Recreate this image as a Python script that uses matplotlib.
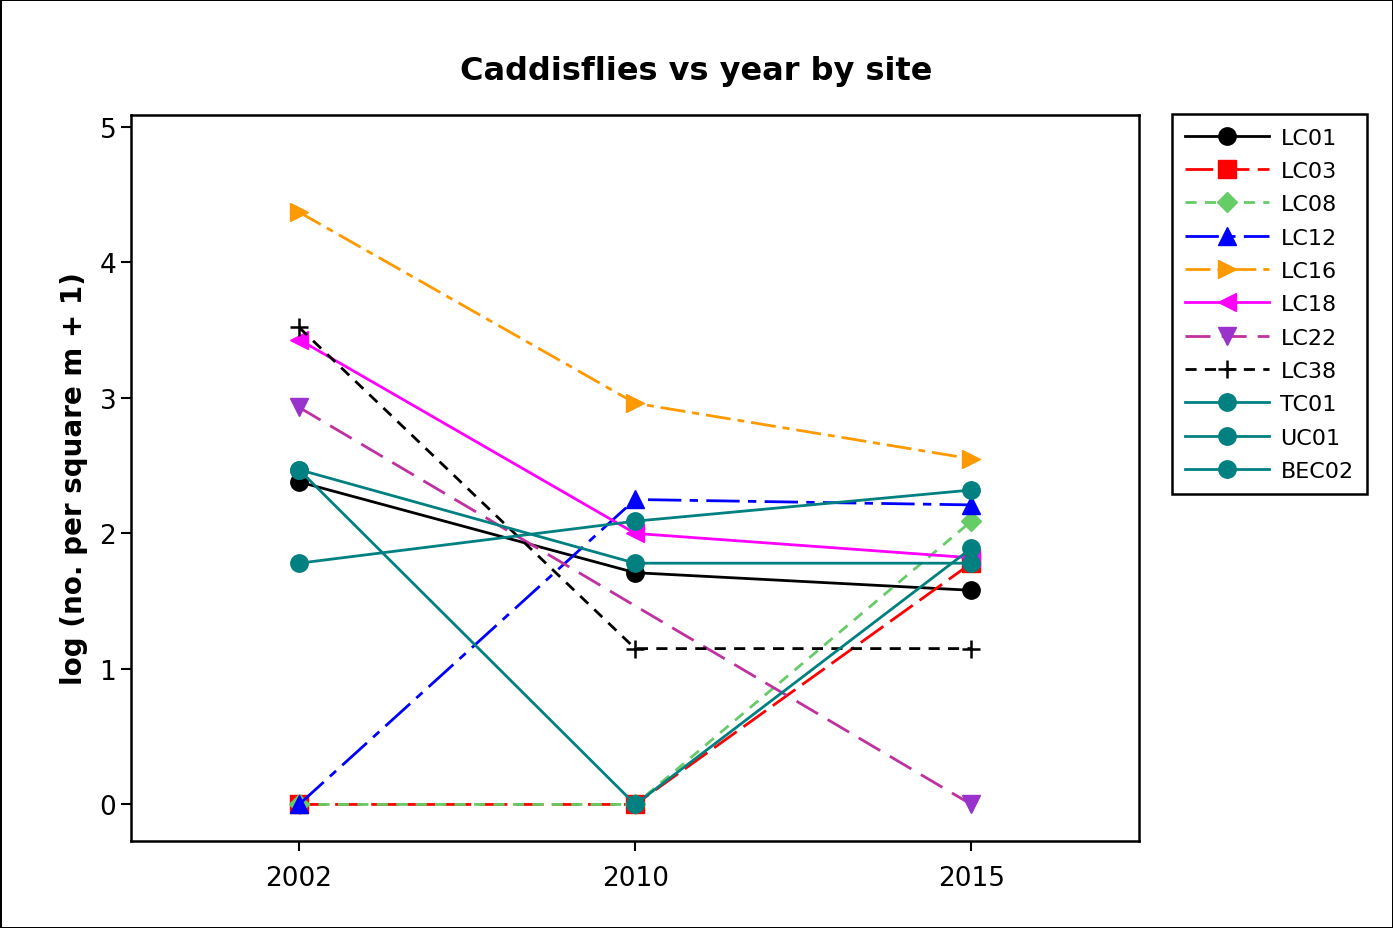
import numpy as np
import matplotlib.pyplot as plt

years = ['2002', '2010', '2015']
sites = ['LC01', 'LC03', 'LC08', 'LC12', 'LC16', 'LC18', 'LC22', 'LC38', 'TC01', 'UC01', 'BEC02']

lc01 = [2.38, 1.71, 1.58]
lc03 = [0.0, 0.0, 1.78]
lc08 = [0.0, 0.0, 2.09]
lc12 = [0.0, 2.25, 2.21]
lc16 = [4.37, 2.96, 2.55]
lc18 = [3.43, 2.0, 1.82]
lc22 = [2.93, np.nan, 0.0]
lc38 = [3.52, 1.15, 1.15]
tc01 = [1.78, 2.09, 2.32]
uc01 = [2.47, 1.78, 1.78]
bec02 = [2.47, 0.0, 1.89]

values = [lc01, lc03, lc08, lc12, lc16, lc18, lc22, lc38, tc01, uc01, bec02]

styles = [
    dict(color='black', ls='-', marker='o', mfc='black', mec='black'),
    dict(color='red', ls=(0, (10, 3)), marker='s', mfc='red', mec='red'),
    dict(color='#66cc66', ls=(0, (4, 3)), marker='D', mfc='#66cc66', mec='#66cc66', ms=10),
    dict(color='blue', ls=(0, (12, 3, 3, 3)), marker='^', mfc='blue', mec='blue'),
    dict(color='#ff9900', ls=(0, (9, 2.5, 2.5, 2.5)), marker='>', mfc='#ff9900', mec='#ff9900'),
    dict(color='magenta', ls='-', marker='<', mfc='magenta', mec='magenta'),
    dict(color='#c030a0', ls=(0, (9, 4)), marker='v', mfc='#9933cc', mec='#9933cc'),
    dict(color='black', ls=(0, (4, 3)), marker='+', mfc='black', mec='black', mew=1.8),
    dict(color='#008080', ls='-', marker='o', mfc='#008080', mec='#008080'),
    dict(color='#008080', ls='-', marker='o', mfc='#008080', mec='#008080'),
    dict(color='#008080', ls='-', marker='o', mfc='#008080', mec='#008080'),
]

fig = plt.figure(figsize=(13.93, 9.29), dpi=100)
fig.patch.set_edgecolor('black')
fig.patch.set_linewidth(2)
ax = fig.add_axes([0.094, 0.0936, 0.724, 0.782])

x = np.arange(len(years))
for name, vals, st in zip(sites, values, styles):
    v = np.array(vals, dtype=float)
    ok = ~np.isnan(v)
    kw = dict(st)
    kw.setdefault('ms', 12.5)
    ax.plot(x[ok], v[ok], lw=2, label=name, **kw)

ax.set_xlim(-0.5, 2.5)
ax.set_ylim(-0.27, 5.09)
ax.set_xticks(x)
ax.set_xticklabels(years)
ax.set_yticks([0, 1, 2, 3, 4, 5])
ax.tick_params(labelsize=19, direction='out', length=7, width=1.5)
ax.tick_params(axis='x', pad=10)
for s in ax.spines.values():
    s.set_linewidth(1.8)
ax.set_ylabel('log (no. per square m + 1)', fontsize=20, fontweight='bold', labelpad=8)
fig.text(0.5, 0.923, 'Caddisflies vs year by site', ha='center', va='center',
         fontsize=23, fontweight='bold')

leg = ax.legend(loc='upper left', bbox_to_anchor=(0.841, 0.876), bbox_transform=fig.transFigure,
                borderaxespad=0, fancybox=False, edgecolor='black', framealpha=1,
                fontsize=16, handlelength=3.8, labelspacing=0.6, borderpad=0.6,
                handletextpad=0.5)
leg.get_frame().set_linewidth(1.8)

plt.savefig('out.png', dpi=100, edgecolor=fig.get_edgecolor())
